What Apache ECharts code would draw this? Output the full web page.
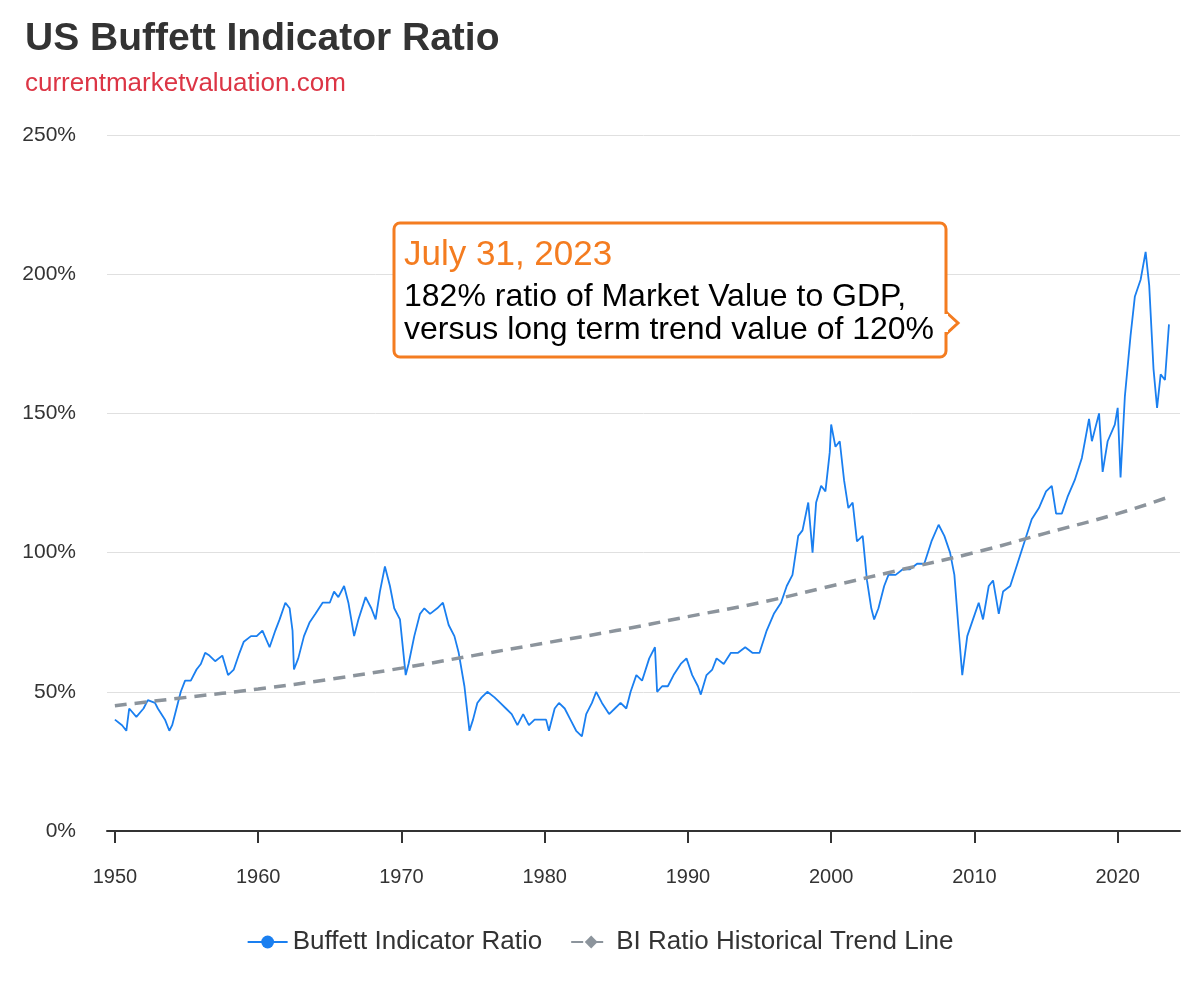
<!DOCTYPE html>
<html><head><meta charset="utf-8">
<script src="https://cdn.jsdelivr.net/npm/echarts@6/dist/echarts.min.js"></script>
<style>html,body{margin:0;padding:0;background:#fff}#c{width:1200px;height:1000px}</style>
</head><body><div id="c"></div>
<script>
const biYears = [1950,1950.5,1950.8,1951,1951.5,1952,1952.3,1952.8,1953,1953.5,1953.8,1954,1954.3,1954.6,1954.9,1955.3,1955.7,1956,1956.3,1956.6,1957,1957.5,1957.9,1958.3,1958.7,1959,1959.5,1959.9,1960.3,1960.8,1961.2,1961.5,1961.9,1962.2,1962.4,1962.5,1962.8,1963.2,1963.6,1964,1964.5,1965,1965.3,1965.6,1966,1966.3,1966.7,1967,1967.5,1967.9,1968.2,1968.5,1968.85,1969.2,1969.5,1969.9,1970.3,1970.5,1970.9,1971.3,1971.6,1972,1972.5,1972.9,1973.3,1973.7,1974,1974.4,1974.75,1975,1975.3,1975.6,1976,1976.5,1976.9,1977.3,1977.7,1978.1,1978.5,1978.9,1979.3,1979.7,1980.1,1980.3,1980.7,1981,1981.4,1981.8,1982.2,1982.6,1982.9,1983.3,1983.6,1984,1984.5,1984.9,1985.3,1985.7,1986,1986.4,1986.8,1987.3,1987.7,1987.85,1988.2,1988.6,1989,1989.5,1989.9,1990.3,1990.7,1990.9,1991.3,1991.7,1992,1992.5,1993,1993.5,1994,1994.5,1995,1995.5,1996,1996.5,1996.9,1997.3,1997.7,1998,1998.4,1998.7,1998.95,1999.3,1999.6,1999.9,2000,2000.3,2000.6,2000.9,2001.2,2001.5,2001.8,2002.2,2002.5,2002.8,2003,2003.3,2003.7,2004,2004.5,2005,2005.5,2006,2006.5,2007,2007.5,2007.9,2008.3,2008.6,2008.9,2009.15,2009.5,2009.9,2010.3,2010.6,2011,2011.3,2011.7,2012,2012.5,2013,2013.5,2014,2014.5,2015,2015.4,2015.7,2016.1,2016.5,2017,2017.5,2018,2018.2,2018.7,2018.95,2019.3,2019.8,2020,2020.2,2020.5,2020.9,2021.2,2021.6,2021.95,2022.2,2022.5,2022.75,2023,2023.3,2023.58];
const biValues = [40,38,36,44,41,44,47,46,44,40,36,38,44,50,54,54,58,60,64,63,61,63,56,58,64,68,70,70,72,66,72,76,82,80,72,58,62,70,75,78,82,82,86,84,88,82,70,76,84,80,76,86,95,88,80,76,56,60,70,78,80,78,80,82,74,70,64,52,36,40,46,48,50,48,46,44,42,38,42,38,40,40,40,36,44,46,44,40,36,34,42,46,50,46,42,44,46,44,50,56,54,62,66,50,52,52,56,60,62,56,52,49,56,58,62,60,64,64,66,64,64,72,78,82,88,92,106,108,118,100,118,124,122,136,146,138,140,126,116,118,104,106,90,80,76,80,88,92,92,94,94,96,96,104,110,106,100,92,72,56,70,76,82,76,88,90,78,86,88,96,104,112,116,122,124,114,114,120,126,134,148,140,150,129,140,146,152,127,156,178,192,198,208,196,166,152,164,162,182];
const trendYears = [1950,1955,1960,1965,1970,1975,1980,1985,1990,1995,2000,2005,2010,2015,2020,2023.58];
const trendValues = [45,48,51,54.5,58.5,63,67.5,72,77,82,88,94,100,107,114,120];
const xTicks = [1950,1960,1970,1980,1990,2000,2010,2020];

const F = 'Liberation Sans, Arial, sans-serif';
const chart = echarts.init(document.getElementById('c'));
chart.setOption({
  animation:false,
  textStyle:{fontFamily:F},
  title:{text:'US Buffett Indicator Ratio',subtext:'currentmarketvaluation.com',left:20,top:15,
    textStyle:{fontSize:39,fontWeight:'bold',color:'#333',fontFamily:F},
    subtextStyle:{fontSize:26,color:'#dc3545',fontFamily:F},itemGap:12},
  grid:{left:107,right:20,top:135,bottom:169},
  legend:{bottom:40,left:'center',itemWidth:40,itemHeight:16,itemGap:28,
    textStyle:{fontSize:26,color:'#333',fontFamily:F},
    data:['Buffett Indicator Ratio','BI Ratio Historical Trend Line']},
  xAxis:{type:'value',min:1949.45,max:2024.35,interval:10,
    axisLine:{lineStyle:{color:'#333',width:2}},
    axisTick:{show:true,length:12,lineStyle:{color:'#333',width:2},customValues:xTicks},
    axisLabel:{fontSize:20,color:'#333',margin:36,customValues:xTicks,fontFamily:F,formatter:v=>String(v)},
    splitLine:{show:false}},
  yAxis:{type:'value',min:0,max:250,interval:50,
    axisLine:{show:false},axisTick:{show:false},
    axisLabel:{formatter:'{value}%',fontSize:21,color:'#333',margin:31,fontFamily:F},
    splitLine:{lineStyle:{color:'#e0e0e0',width:1}}},
  series:[
    {name:'Buffett Indicator Ratio',type:'line',data:biYears.map((y,i)=>[y,biValues[i]]),
     symbol:'circle',symbolSize:16,showSymbol:false,lineStyle:{color:'#1a7ff0',width:1.8},itemStyle:{color:'#1a7ff0'}},
    {name:'BI Ratio Historical Trend Line',type:'line',data:trendYears.map((y,i)=>[y,trendValues[i]]),smooth:true,
     symbol:'diamond',symbolSize:16,showSymbol:false,lineStyle:{color:'#8c949c',width:3.5,type:[12,8]},itemStyle:{color:'#8c949c'}}
  ],
  graphic:[
    {type:'polygon',shape:{points:[[946,312],[958,323],[946,334]]},style:{fill:'#fff',stroke:'#f47c20',lineWidth:3},z:10},
    {type:'rect',shape:{x:394,y:223,width:552,height:134,r:6},style:{fill:'#fff',stroke:'#f47c20',lineWidth:3},z:11},
    {type:'rect',shape:{x:944,y:314,width:4,height:18},style:{fill:'#fff'},z:12},
    {type:'text',left:404,top:238,style:{text:'July 31, 2023',fontSize:35,fill:'#f47c20',fontFamily:F},z:13},
    {type:'text',left:404,top:281,style:{text:'182% ratio of Market Value to GDP,\nversus long term trend value of 120%',fontSize:32,lineHeight:33,fill:'#000',fontFamily:F},z:13}
  ]
});
</script></body></html>
